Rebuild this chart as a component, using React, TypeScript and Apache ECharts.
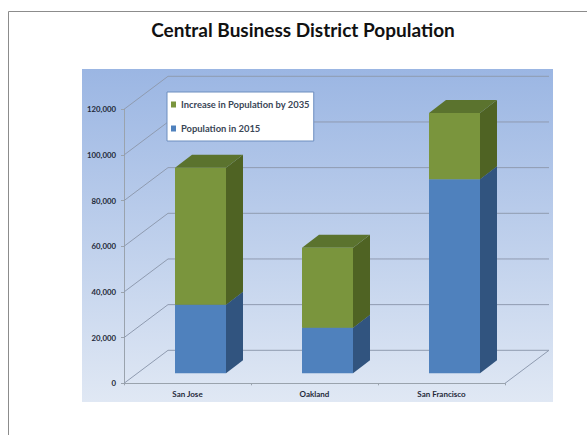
import React, { useEffect, useRef } from "react";
import * as echarts from "echarts";

const categories = ["San Jose", "Oakland", "San Francisco"];
const population2015 = [30000, 20000, 85000];
const increaseBy2035 = [60000, 35000, 29000];
const wallTicks = [0, 20000, 40000, 60000, 80000, 100000, 120000];

// Oblique projection of the chart box and of the columns standing inside it
const WALL_DX = 44;
const WALL_DY = 33;
const BAR_INSET_DX = 13;
const BAR_INSET_DY = 10;
const BAR_DEPTH_DX = 17;
const BAR_DEPTH_DY = 13;
const BAR_WIDTH = 51;

const FONT = "Lato";

function wallItem(params: any, api: any) {
  const value = api.value(0);
  const sys = params.coordSys;
  const y = api.coord([0, value])[1];
  const left = sys.x;
  const right = sys.x + sys.width;
  const lineStyle = { stroke: "#8f9bb0", lineWidth: 1, fill: "none" };
  const points =
    value === 0
      ? [
          [left, y],
          [left + WALL_DX, y - WALL_DY],
          [right + WALL_DX, y - WALL_DY],
          [right, y],
        ]
      : [
          [left, y],
          [left + WALL_DX, y - WALL_DY],
          [right + WALL_DX, y - WALL_DY],
        ];
  return { type: "polyline", shape: { points }, style: lineStyle, silent: true };
}

function columnItem(sideColor: string, topColor: string) {
  return (_params: any, api: any) => {
    const cat = api.value(0);
    const centre = api.coord([cat, 0])[0] + BAR_INSET_DX;
    const y0 = api.coord([cat, api.value(1)])[1] - BAR_INSET_DY;
    const y1 = api.coord([cat, api.value(2)])[1] - BAR_INSET_DY;
    const x0 = centre - BAR_WIDTH / 2;
    const x1 = centre + BAR_WIDTH / 2;
    const dx = BAR_DEPTH_DX;
    const dy = BAR_DEPTH_DY;
    return {
      type: "group",
      children: [
        {
          type: "polygon",
          shape: { points: [[x1, y0], [x1 + dx, y0 - dy], [x1 + dx, y1 - dy], [x1, y1]] },
          style: { fill: sideColor },
        },
        {
          type: "polygon",
          shape: { points: [[x0, y1], [x1, y1], [x1 + dx, y1 - dy], [x0 + dx, y1 - dy]] },
          style: { fill: topColor },
        },
        {
          type: "rect",
          shape: { x: x0, y: y1, width: BAR_WIDTH, height: y0 - y1 },
          style: { fill: api.visual("color") },
        },
      ],
    };
  };
}

export default function App() {
  const ref = useRef<HTMLDivElement>(null);

  useEffect(() => {
    const chart = echarts.init(ref.current!, undefined, { renderer: "svg" });
    chart.setOption({
      animation: false,
      backgroundColor: "#ffffff",
      title: {
        text: "Central Business District Population",
        left: 303,
        top: 20,
        textAlign: "center",
        padding: 0,
        textStyle: { fontFamily: FONT, fontSize: 19, fontWeight: "bold", color: "#111111" },
      },
      legend: {
        left: 167,
        top: 92,
        orient: "vertical",
        data: ["Increase in Population by 2035", "Population in 2015"],
        icon: "rect",
        itemWidth: 5,
        itemHeight: 6,
        itemGap: 15,
        padding: [8, 4, 8, 4],
        backgroundColor: "#ffffff",
        borderColor: "#6d8ebf",
        borderWidth: 1,
        selectedMode: false,
        textStyle: {
          fontFamily: FONT,
          fontSize: 9.4,
          fontWeight: "bold",
          color: "#3a4656",
        },
      },
      grid: { left: 124, top: 109.3, width: 381, height: 274 },
      xAxis: {
        type: "category",
        data: categories,
        axisLine: { lineStyle: { color: "#9aa3ad", width: 1 } },
        axisTick: { show: true, alignWithLabel: false, length: 2, lineStyle: { color: "#9aa3ad" } },
        axisLabel: {
          margin: 7,
          fontFamily: FONT,
          fontSize: 8,
          fontWeight: "bold",
          color: "#1f2a3a",
          interval: 0,
        },
      },
      yAxis: {
        type: "value",
        min: 0,
        max: 120000,
        interval: 20000,
        splitLine: { show: false },
        axisLine: { show: true, lineStyle: { color: "#9aa3ad", width: 1 } },
        axisTick: { show: true, length: 3, lineStyle: { color: "#9aa3ad" } },
        axisLabel: {
          margin: 8,
          fontFamily: FONT,
          fontSize: 7.8,
          fontWeight: "bold",
          color: "#1f2a3a",
          formatter: (v: number) => v.toLocaleString("en-US"),
        },
      },
      graphic: [
        {
          type: "polyline",
          z: -2,
          shape: { points: [[8.5, 435], [8.5, 11.5], [587, 11.5]] },
          style: { stroke: "#8c8c8c", lineWidth: 1, fill: "none" },
        },
        {
          type: "rect",
          z: -1,
          shape: { x: 82, y: 69, width: 471, height: 333 },
          style: {
            fill: new echarts.graphic.LinearGradient(0, 0, 0, 1, [
              { offset: 0, color: "#9bb6e3" },
              { offset: 1, color: "#e0e8f4" },
            ]),
          },
        },
      ],
      series: [
        {
          type: "custom",
          name: "walls",
          z: 1,
          renderItem: wallItem,
          clip: false,
          silent: true,
          data: wallTicks.map((v) => [v]),
          encode: { y: 0 },
        },
        {
          type: "custom",
          name: "Population in 2015",
          z: 2,
          renderItem: columnItem("#31547f", "#3f6896"),
          itemStyle: { color: "#4f81bd" },
          clip: false,
          data: categories.map((_, i) => [i, 0, population2015[i]]),
          encode: { x: 0, y: [1, 2] },
        },
        {
          type: "custom",
          name: "Increase in Population by 2035",
          z: 3,
          renderItem: columnItem("#4f6323", "#5b732e"),
          itemStyle: { color: "#7a953d" },
          clip: false,
          data: categories.map((_, i) => [
            i,
            population2015[i],
            population2015[i] + increaseBy2035[i],
          ]),
          encode: { x: 0, y: [1, 2] },
        },
      ],
    });
    return () => chart.dispose();
  }, []);

  return (
    <div
      ref={ref}
      style={{ position: "absolute", left: 0, top: 0, width: 587, height: 435 }}
    />
  );
}
